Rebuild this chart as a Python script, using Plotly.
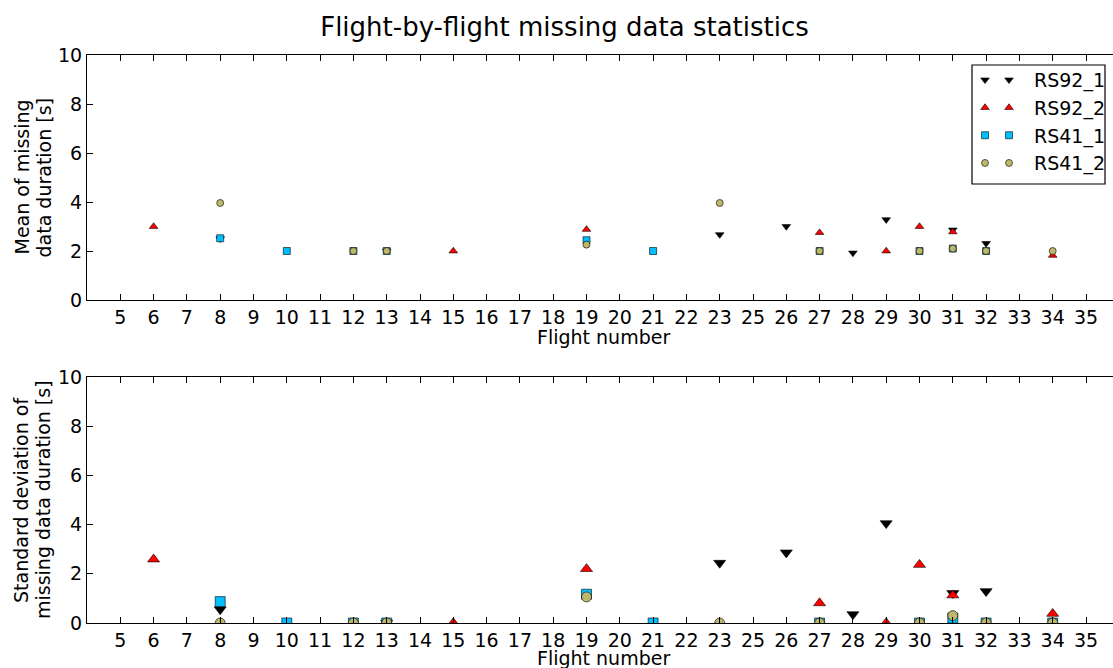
import plotly.graph_objects as go

# ---------------- data ----------------
flights = ["5", "6", "7", "8", "9", "10", "11", "12", "13", "14", "15", "16", "17",
           "18", "19", "20", "21", "22", "23", "25", "26", "27", "28", "29", "30",
           "31", "32", "33", "34", "35"]

rs92_1_x = ["8", "13", "23", "26", "28", "29", "31", "32"]
rs92_1_mean = [2.5, 2.0, 2.67, 3.0, 1.92, 3.28, 2.86, 2.31]
rs92_1_std = [0.55, 0.0, 2.44, 2.86, 0.35, 4.05, 1.21, 1.29]

rs92_2_x = ["6", "15", "19", "27", "29", "30", "31", "34"]
rs92_2_mean = [3.0, 2.0, 2.88, 2.75, 2.0, 3.0, 2.78, 1.82]
rs92_2_std = [2.59, 0.0, 2.2, 0.81, 0.0, 2.37, 1.13, 0.38]

rs41_1_x = ["8", "10", "12", "13", "19", "21", "27", "30", "31", "32", "34"]
rs41_1_mean = [2.52, 2.0, 2.0, 2.0, 2.44, 2.0, 2.0, 2.0, 2.1, 2.0, None]
rs41_1_std = [0.87, 0.0, 0.0, 0.0, 1.17, 0.0, 0.0, 0.0, 0.2, 0.0, 0.0]

rs41_2_x = ["8", "12", "13", "19", "23", "27", "30", "31", "32", "34"]
rs41_2_mean = [3.96, 2.0, 2.0, 2.26, 3.96, 2.0, 2.0, 2.1, 2.0, 2.0]
rs41_2_std = [0.0, 0.0, 0.0, 1.06, 0.0, 0.0, 0.0, 0.3, 0.0, 0.0]

y_ticks = [0, 2, 4, 6, 8, 10]

series = [
    ("RS92_1", rs92_1_x, rs92_1_mean, rs92_1_std, "black", "triangle-down"),
    ("RS92_2", rs92_2_x, rs92_2_mean, rs92_2_std, "#ff0000", "triangle-up"),
    ("RS41_1", rs41_1_x, rs41_1_mean, rs41_1_std, "#00bfff", "square"),
    ("RS41_2", rs41_2_x, rs41_2_mean, rs41_2_std, "#bdb76b", "circle"),
]

# ---------------- layout geometry ----------------
W, H = 1113, 668
L, R, T, B = 87, 0, 55, 45
PW, PH = W - L - R, H - T - B


def py(p):  # pixel y (from top) -> paper y
    return (H - B - p) / PH


def px(p):  # pixel x -> paper x
    return (p - L) / PW


FONT = "DejaVu Sans, Bitstream Vera Sans, sans-serif"
FS = 19

fig = go.Figure()

for name, xs, mean, std, color, sym in series:
    tri = sym.startswith("triangle")
    top_marker = dict(color=color, symbol=sym, size=7.5 if tri else 7,
                      line=dict(color="black", width=0.6))
    fig.add_trace(go.Scatter(
        x=xs, y=mean, mode="markers", name=name, legendgroup=name,
        xaxis="x", yaxis="y", legend="legend", marker=top_marker,
    ))
    fig.add_trace(go.Scatter(
        x=xs, y=std, mode="markers", name=name, legendgroup=name,
        showlegend=False, xaxis="x2", yaxis="y2",
        marker=dict(color=color, symbol=sym, size=10.5 if tri else 10,
                    line=dict(color="black", width=0.6)),
    ))
    # second legend symbol (matplotlib draws two markers per legend entry)
    fig.add_trace(go.Scatter(
        x=[None], y=[None], mode="markers", name=" ", legendgroup=name,
        xaxis="x", yaxis="y", legend="legend2", marker=top_marker,
        hoverinfo="skip",
    ))

xcommon = dict(
    type="category", categoryorder="array", categoryarray=flights,
    tickmode="array", tickvals=flights, ticktext=flights,
    range=[-1, -1 + (W - L) / 33.3],
    showgrid=False, zeroline=False, showline=True, linecolor="black", linewidth=1,
    mirror="ticks", ticks="inside", ticklen=6, tickcolor="black", tickwidth=1,
    tickfont=dict(family=FONT, size=FS, color="black"),
)
ycommon = dict(
    range=[0, 10], tickmode="array", tickvals=y_ticks,
    showgrid=False, zeroline=False, showline=True, linecolor="black", linewidth=1,
    mirror=False, ticks="inside", ticklen=6, tickcolor="black", tickwidth=1,
    tickfont=dict(family=FONT, size=FS, color="black"),
)

top_dom = [py(300), 1.0]
bot_dom = [0.0, py(377)]

leg_common = dict(yanchor="top", xanchor="left", y=py(61),
                  borderwidth=0, bgcolor="rgba(0,0,0,0)",
                  font=dict(family=FONT, size=FS, color="black"),
                  itemwidth=40, tracegroupgap=0, itemclick=False,
                  itemdoubleclick=False)

fig.update_layout(
    width=W, height=H,
    margin=dict(l=L, r=R, t=T, b=B, pad=0),
    paper_bgcolor="white", plot_bgcolor="white",
    font=dict(family=FONT, size=FS, color="black"),
    title=dict(text="Flight-by-flight missing data statistics",
               x=564.5 / W, xref="container", xanchor="center",
               y=1 - 27 / H, yref="container", yanchor="middle",
               font=dict(family=FONT, size=26, color="black")),
    xaxis=dict(xcommon, anchor="y", domain=[0, 1]),
    yaxis=dict(ycommon, anchor="x", domain=top_dom),
    xaxis2=dict(xcommon, anchor="y2", domain=[0, 1]),
    yaxis2=dict(ycommon, anchor="x2", domain=bot_dom),
    legend=dict(leg_common, x=px(984)),
    legend2=dict(leg_common, x=px(960)),
    showlegend=True,
    shapes=[dict(type="rect", xref="paper", yref="paper",
                 x0=px(972), x1=px(1105), y0=py(184), y1=py(65),
                 line=dict(color="black", width=1.2), fillcolor="rgba(0,0,0,0)",
                 layer="above")],
)

ann = [
    dict(text="Flight number", x=px(603), y=py(337), yanchor="middle"),
    dict(text="Flight number", x=px(603), y=py(658), yanchor="middle"),
]
for a in ann:
    a.update(xref="paper", yref="paper", xanchor="center",
             showarrow=False, font=dict(family=FONT, size=FS, color="black"))
ylab = [
    ("Mean of missing", 22, (55 + 300) / 2),
    ("data duration [s]", 44, (55 + 300) / 2),
    ("Standard deviation of", 21, (377 + 623) / 2),
    ("missing data duration [s]", 43, (377 + 623) / 2),
]
for text, xp, yp in ylab:
    ann.append(dict(text=text, x=px(xp), y=py(yp), xref="paper", yref="paper",
                    xanchor="center", yanchor="middle", textangle=-90,
                    showarrow=False, font=dict(family=FONT, size=FS, color="black")))
fig.update_layout(annotations=ann)

fig.write_html("out.html")
